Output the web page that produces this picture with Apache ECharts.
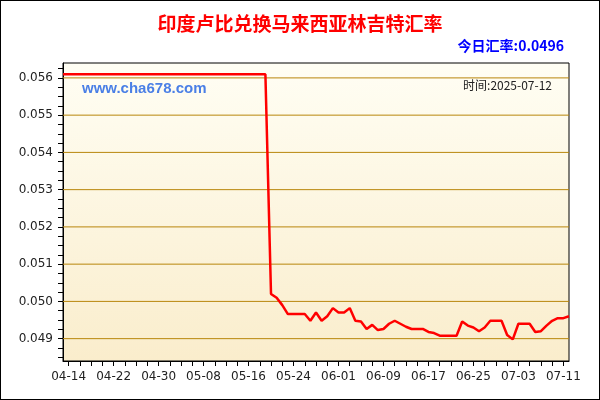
<!DOCTYPE html>
<html><head><meta charset="utf-8">
<script src="https://cdn.jsdelivr.net/npm/echarts@6/dist/echarts.min.js"></script>
<style>html,body{margin:0;padding:0;background:#fff}#c{width:600px;height:400px;box-sizing:border-box;border:1px solid #000}</style>
</head><body><div id="c"></div>
<script>
const startDate = '2025-04-13';
const dayCount = 91;
const values = [].concat(
  Array(37).fill(0.0561),
  [0.0502,0.0501,0.0499,0.04966,0.04966,0.04966,0.04966,0.04948,0.0497,0.04948,0.0496,0.04982,
   0.0497,0.0497,0.04982,0.04948,0.04946,0.04926,0.04937,0.04923,0.04926,0.0494,0.04948,0.0494,0.04932,0.04926,0.04926,0.04926,0.04918,0.04915,0.04908,0.04908,0.04908,0.04908,0.04946,0.04935,0.0493,0.0492,0.0493,0.04948,0.04948,0.04948,
   0.0491,0.04898,0.0494,0.0494,0.0494,0.04918,0.0492,0.04935,0.04948,0.04955,0.04955,0.0496]
);
const yTicks = [0.049,0.050,0.051,0.052,0.053,0.054,0.055,0.056];
const categories = [];
(function(){const d=new Date(startDate+'T00:00:00Z');for(let i=0;i<dayCount;i++){const t=new Date(d.getTime()+i*864e5);categories.push(String(t.getUTCMonth()+1).padStart(2,'0')+'-'+String(t.getUTCDate()).padStart(2,'0'));}})();
const minorY=[];for(let v=0.0485;v<=0.0564;v+=0.00025)minorY.push(+v.toFixed(5));
const gridSeries = yTicks.map(v=>({type:'line',data:[[categories[0],v],[categories[dayCount-1],v]],showSymbol:false,silent:true,
  lineStyle:{color:'#b8860b',width:1},z:1}));
const chart = echarts.init(document.getElementById('c'));
chart.setOption({
  animation:false,
  title:[
    {text:'印度卢比兑换马来西亚林吉特汇率',left:'center',top:8,textStyle:{color:'#ff0000',fontSize:19,fontWeight:'bold',fontFamily:'Noto Sans CJK SC'}},
    {text:'今日汇率:0.0496',right:30,top:33,textStyle:{color:'#0000ff',fontSize:14,fontWeight:'bold',fontFamily:'Noto Sans CJK SC'}},
    {text:'www.cha678.com',left:76,top:75,textStyle:{color:'#4a7fe6',fontSize:15,fontWeight:'bold',fontFamily:'Liberation Sans'}},
    {text:'时间:2025-07-12',right:42,top:73,textStyle:{color:'#222',fontSize:12,fontWeight:'normal',fontFamily:'Noto Sans CJK SC'}}
  ],
  grid:{left:62,right:30,top:62,bottom:38,show:true,borderColor:'#000',borderWidth:1,
    backgroundColor:new echarts.graphic.LinearGradient(0,0,0,1,[{offset:0,color:'#fffef4'},{offset:1,color:'#faedcc'}])},
  xAxis:{type:'category',data:categories,boundaryGap:false,
    axisLine:{lineStyle:{color:'#000'}},
    axisTick:{interval:(i)=>i%2===1,length:5,lineStyle:{color:'#000'}},
    axisLabel:{interval:(i)=>(i-1)%8===0,color:'#222',fontSize:12,fontFamily:'DejaVu Sans',margin:10},
    splitLine:{show:false}},
  yAxis:{type:'value',min:0.0484,max:0.0564,
    axisLine:{show:true,lineStyle:{color:'#000'}},
    axisTick:{show:true,inside:false,length:5,customValues:minorY,lineStyle:{color:'#000'}},
    axisLabel:{customValues:yTicks,formatter:(v)=>v.toFixed(3),color:'#222',fontSize:12,fontFamily:'DejaVu Sans',margin:10},
    splitLine:{show:false}},
  series:gridSeries.concat([{type:'line',data:values,showSymbol:false,lineStyle:{color:'#ff0000',width:2.5},z:5}])
});
</script></body></html>
